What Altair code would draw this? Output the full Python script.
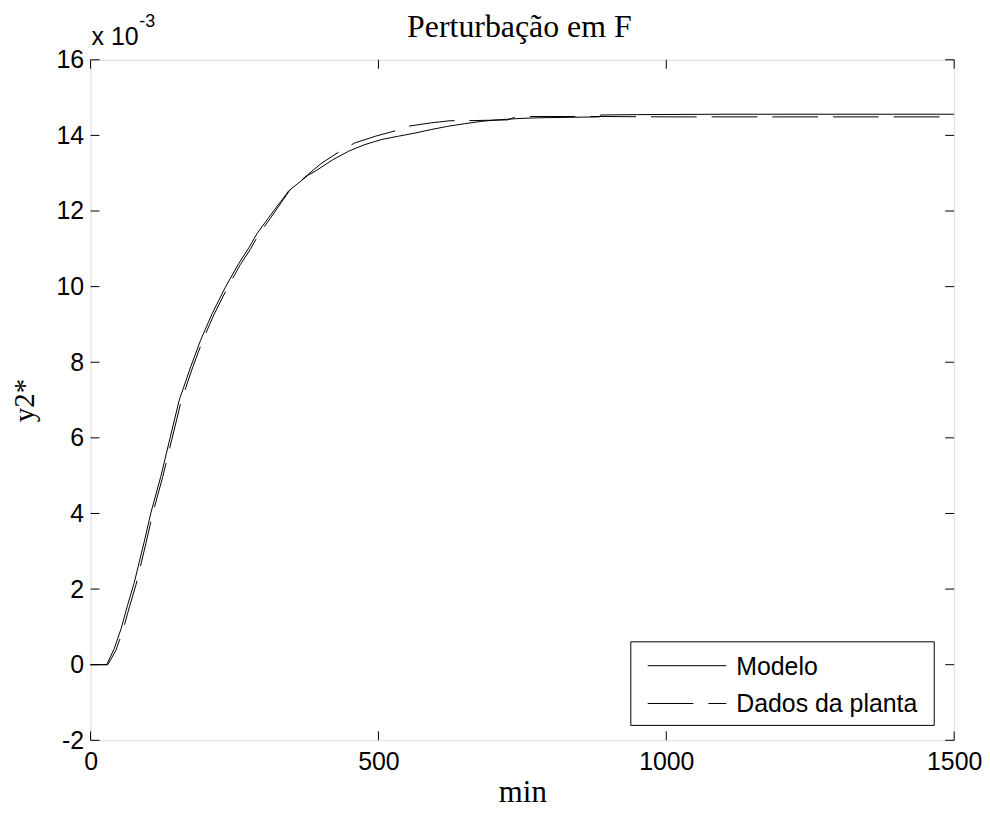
import altair as alt
import pandas as pd

# ---- data (y in units of 1e-3) ----
model_t = [0, 28, 41, 53, 64, 76, 93, 105, 122, 138, 154, 174, 191, 211, 234, 257,
           275, 289, 309, 344, 378, 390, 420, 448, 475, 505, 535, 563, 590, 620,
           650, 678, 706, 736, 765, 793, 840, 884, 886, 950, 1100, 1300, 1500]
model_y = [0, 0, 0.42, 0.95, 1.56, 2.18, 3.24, 4.03, 4.98, 5.99, 7.0, 7.88, 8.58, 9.28,
           9.98, 10.6, 11.03, 11.4, 11.82, 12.53, 12.95, 13.05, 13.35, 13.58, 13.75,
           13.89, 13.98, 14.06, 14.15, 14.24, 14.31, 14.37, 14.41, 14.44, 14.46, 14.47,
           14.48, 14.49, 14.54, 14.55, 14.56, 14.56, 14.56]

data_t = [0, 30, 44, 56, 67, 79, 96, 108, 125, 141, 157, 177, 194, 214, 237, 260, 278,
          292, 312, 346, 378, 400, 435, 459, 495, 529, 551, 590, 626, 655, 690, 724,
          741, 764, 800, 885, 1000, 1200, 1500]
data_y = [0, 0, 0.38, 0.9, 1.5, 2.12, 3.2, 4.0, 4.95, 5.95, 6.95, 7.85, 8.55, 9.25,
          9.95, 10.58, 11.0, 11.38, 11.8, 12.55, 12.97, 13.25, 13.6, 13.8, 13.98, 14.12,
          14.24, 14.33, 14.39, 14.39, 14.4, 14.41, 14.5, 14.5, 14.5, 14.5, 14.49, 14.49,
          14.49]

x_ticks = [0, 500, 1000, 1500]
y_ticks = [-2, 0, 2, 4, 6, 8, 10, 12, 14, 16]
series_names = ["Modelo", "Dados da planta"]
chart_title = "Perturbação em F"
x_title = "min"
y_title = "y2*"
mult_base = "x 10"
mult_exp = "-3"

W, H = 868, 684
SANS = "Liberation Sans"
SERIF = "Liberation Serif"
DASH = [46, 15]

xscale = alt.Scale(domain=[0, 1500], nice=False, zero=False)
yscale = alt.Scale(domain=[-2, 16], nice=False, zero=False)

x_axis = alt.Axis(values=x_ticks, domain=False, ticks=False, tickSize=0, grid=False,
                  labelFont=SANS, labelFontSize=25, labelColor="black", labelPadding=9,
                  labelFlush=False, labelOverlap=False, labelBound=False,
                  labelExpr="'' + datum.value",
                  title=x_title, titleFont=SERIF, titleFontSize=31, titleFontWeight="normal",
                  titleColor="black", titleX=W / 2, titleY=62, titleBaseline="alphabetic",
                  titleAlign="center")
y_axis = alt.Axis(values=y_ticks, domain=False, ticks=False, tickSize=0, grid=False,
                  labelFont=SANS, labelFontSize=25, labelColor="black", labelPadding=7,
                  labelFlush=False, labelOverlap=False, labelBound=False,
                  labelExpr="'' + datum.value",
                  title=y_title, titleFont=SERIF, titleFontSize=29, titleFontWeight="normal",
                  titleColor="black", titleX=-57, titleY=H / 2, titleAngle=270,
                  titleBaseline="alphabetic", titleAlign="center")


def X(field="t"):
    return alt.X(f"{field}:Q", scale=xscale, axis=x_axis)


def Y(field="y"):
    return alt.Y(f"{field}:Q", scale=yscale, axis=y_axis)


model_df = pd.DataFrame({"t": model_t, "y": model_y})
data_df = pd.DataFrame({"t": data_t, "y": data_y})
xt_df = pd.DataFrame({"t": x_ticks})
yt_df = pd.DataFrame({"y": y_ticks})
one = pd.DataFrame({"k": [0]})

model_line = alt.Chart(model_df).mark_line(color="black", strokeWidth=1).encode(
    x=X(), y=Y(), order="t:Q")
data_line = alt.Chart(data_df).mark_line(color="black", strokeWidth=1, strokeDash=DASH).encode(
    x=X(), y=Y(), order="t:Q")

TL = 9
tick_left = alt.Chart(yt_df).mark_rule(color="black", strokeWidth=1).encode(
    y=Y(), x=alt.value(0), x2=alt.value(TL))
tick_right = alt.Chart(yt_df).mark_rule(color="black", strokeWidth=1).encode(
    y=Y(), x=alt.value(W - TL), x2=alt.value(W))
tick_bottom = alt.Chart(xt_df).mark_rule(color="black", strokeWidth=1).encode(
    x=X(), y=alt.value(H), y2=alt.value(H - TL))
tick_top = alt.Chart(xt_df).mark_rule(color="black", strokeWidth=1).encode(
    x=X(), y=alt.value(0), y2=alt.value(TL))

title_txt = alt.Chart(one).mark_text(font=SERIF, fontSize=32, color="black", align="center",
                                     baseline="alphabetic").encode(
    x=alt.value(W / 2 - 3), y=alt.value(-23), text=alt.value(chart_title))
mult1 = alt.Chart(one).mark_text(font=SANS, fontSize=25, color="black", align="left",
                                 baseline="alphabetic").encode(
    x=alt.value(1), y=alt.value(-15), text=alt.value(mult_base))
mult2 = alt.Chart(one).mark_text(font=SANS, fontSize=18, color="black", align="left",
                                 baseline="alphabetic").encode(
    x=alt.value(49), y=alt.value(-33), text=alt.value(mult_exp))

# legend (MATLAB style box)
LX0, LX1, LY0, LY1 = 543, 848, 585, 669
leg_box = alt.Chart(one).mark_rect(fill="white", stroke="black", strokeWidth=1).encode(
    x=alt.value(LX0), x2=alt.value(LX1), y=alt.value(LY0), y2=alt.value(LY1))
rows = [609, 647]
leg_layers = []
for i, name in enumerate(series_names):
    kw = dict(color="black", strokeWidth=1)
    if i == 1:
        kw["strokeDash"] = DASH
    leg_layers.append(alt.Chart(one).mark_rule(**kw).encode(
        x=alt.value(560), x2=alt.value(639), y=alt.value(rows[i])))
    leg_layers.append(alt.Chart(one).mark_text(font=SANS, fontSize=25, color="black",
                                               align="left", baseline="middle").encode(
        x=alt.value(649), y=alt.value(rows[i] + 1), text=alt.value(name)))

chart = alt.layer(
    model_line, data_line, tick_left, tick_right, tick_bottom, tick_top,
    title_txt, mult1, mult2, leg_box, *leg_layers
).properties(
    width=W, height=H,
    autosize=alt.AutoSizeParams(type="none"),
    padding={"left": 83, "top": 50, "right": 28, "bottom": 68},
).configure_view(stroke="black", strokeWidth=1.3).configure(background="white")

chart.save("out.html", embed_options={"renderer": "svg", "actions": False})
